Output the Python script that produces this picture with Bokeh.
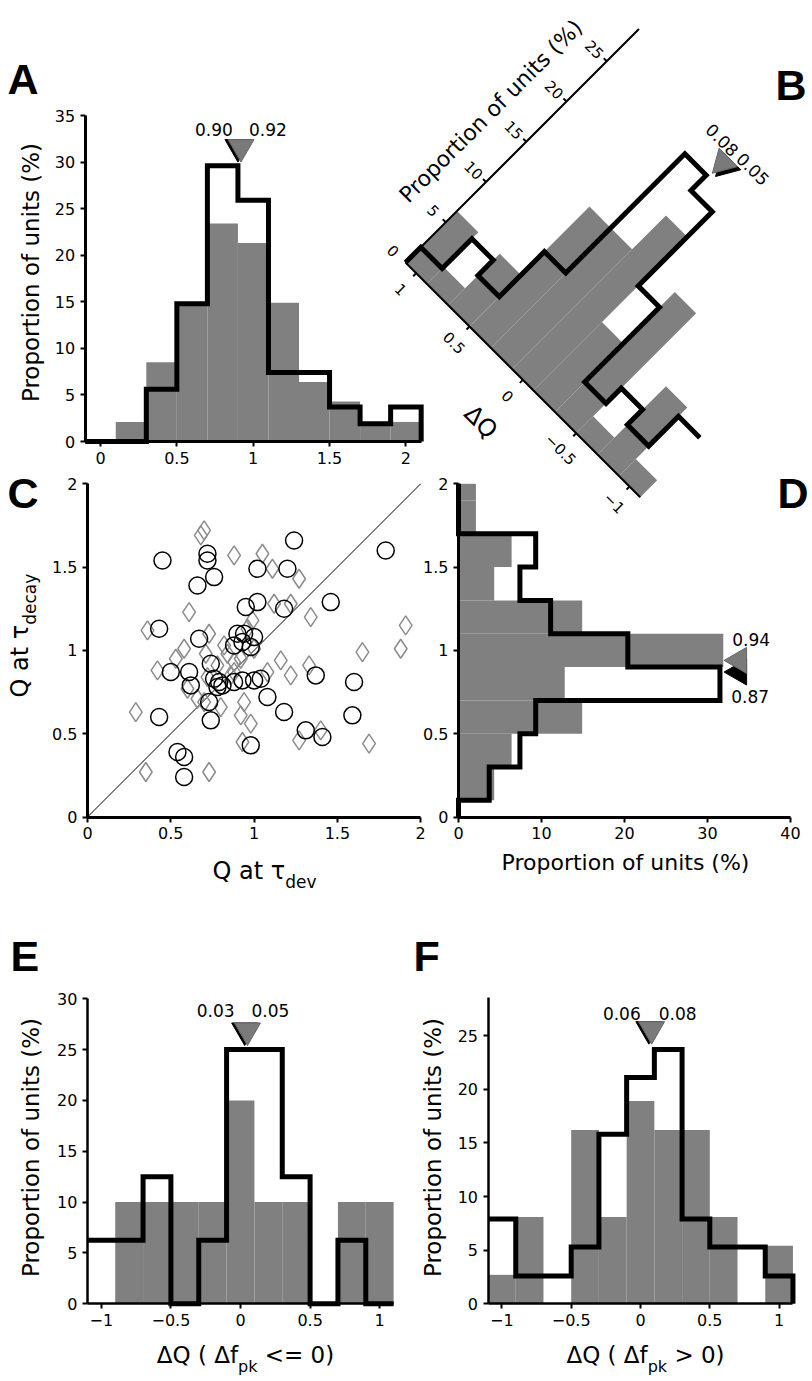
import numpy as np
from bokeh.plotting import figure
from bokeh.models import Range1d, LinearAxis, FixedTicker
from bokeh.core.properties import value
from bokeh.embed import file_html
from bokeh.resources import INLINE

# ------------------------------------------------------------------ data
# Panel A : Q histogram (grey = one population, black outline = other)
A_centers = [0.0, 0.2, 0.4, 0.6, 0.8, 1.0, 1.2, 1.4, 1.6, 1.8, 2.0]
A_gray = [0.0, 2.1, 8.5, 14.9, 23.4, 21.3, 14.9, 6.4, 4.3, 2.1, 2.1]
A_black = [0.0, 0.0, 5.6, 14.8, 29.6, 25.9, 7.4, 7.4, 3.7, 1.9, 3.7]
A_median_black = 0.90
A_median_gray = 0.92
A_marker_y = 30.0
A_xticks = [0, 0.5, 1, 1.5, 2]
A_xticklabels = ["0", "0.5", "1", "1.5", "2"]
A_yticks = [0, 5, 10, 15, 20, 25, 30, 35]

# Panel B : rotated Delta-Q histogram
B_centers = [1.0, 0.8, 0.6, 0.4, 0.2, 0.0, -0.2, -0.4, -0.6, -0.8, -1.0]
B_gray = [6.4, 2.1, 6.4, 14.9, 14.9, 19.1, 8.5, 14.9, 2.1, 8.5, 2.1]
B_black = [1.9, 5.6, 3.7, 9.3, 24.1, 22.2, 13.0, 3.7, 5.6, 3.7, 7.4]
B_median_black = 0.05
B_median_gray = 0.08
B_marker_pct = 24.6
B_qticks = [1, 0.5, 0, -0.5, -1]
B_qticklabels = ["1", "0.5", "0", "\u22120.5", "\u22121"]
B_pticks = [0, 5, 10, 15, 20, 25]
B_pticklabels = ["0", "5", "10", "15", "20", "25"]

# Panel C : scatter Q at tau_dev vs Q at tau_decay
C_circle_x = [0.45, 0.72, 0.72, 0.76, 0.66, 1.24, 1.79, 1.02, 1.20, 1.02, 1.46, 0.95,
              1.18, 0.43, 0.67, 0.90, 0.94, 1.00, 0.88, 0.93, 0.98, 0.50, 0.61, 0.62,
              0.74, 0.76, 0.79, 0.81, 0.78, 0.88, 0.93, 1.00, 1.04, 1.08, 1.37, 1.60,
              1.18, 1.59, 0.43, 0.74, 0.73, 1.31, 1.41, 0.98, 0.54, 0.58, 0.58]
C_circle_y = [1.54, 1.58, 1.54, 1.44, 1.39, 1.66, 1.60, 1.49, 1.49, 1.29, 1.29, 1.26,
              1.25, 1.13, 1.07, 1.10, 1.10, 1.08, 1.03, 1.05, 1.02, 0.87, 0.87, 0.79,
              0.92, 0.83, 0.81, 0.79, 0.78, 0.81, 0.82, 0.82, 0.83, 0.72, 0.85, 0.81,
              0.63, 0.61, 0.60, 0.58, 0.69, 0.52, 0.48, 0.43, 0.39, 0.36, 0.24]
C_diamond_x = [0.70, 0.68, 0.88, 1.05, 1.11, 1.27, 0.61, 1.12, 1.22, 1.34, 0.36, 0.73,
               0.99, 0.58, 0.53, 0.42, 1.91, 1.88, 1.65, 1.16, 1.22, 1.33, 0.88, 0.84,
               0.92, 0.72, 0.29, 0.70, 0.80, 0.94, 0.92, 0.98, 0.93, 1.27, 1.40, 1.69,
               0.35, 0.73, 0.88, 0.78, 0.96, 1.08, 0.86, 1.00, 0.66, 0.60, 0.71, 0.82]
C_diamond_y = [1.72, 1.69, 1.57, 1.58, 1.49, 1.43, 1.23, 1.28, 1.28, 1.20, 1.12, 1.10,
               1.18, 1.01, 0.95, 0.88, 1.15, 1.01, 0.99, 0.94, 0.85, 0.91, 0.93, 0.98,
               0.95, 0.84, 0.63, 0.69, 0.66, 0.69, 0.61, 0.56, 0.45, 0.46, 0.52, 0.44,
               0.27, 0.27, 0.87, 0.91, 1.13, 0.87, 0.85, 1.01, 0.71, 0.77, 0.98, 1.03]
C_lim = [0, 2]
C_ticks = [0, 0.5, 1, 1.5, 2]
C_ticklabels = ["0", "0.5", "1", "1.5", "2"]

# Panel D : horizontal histogram of Q at tau_decay
D_centers = [0.0, 0.2, 0.4, 0.6, 0.8, 1.0, 1.2, 1.4, 1.6, 1.8, 2.0]
D_gray = [0.0, 4.3, 6.4, 14.9, 12.8, 31.9, 14.9, 4.3, 6.4, 2.1, 2.1]
D_black = [0.0, 3.7, 7.4, 9.3, 31.5, 20.4, 11.1, 7.4, 9.3, 0.0, 0.0]
D_median_black = 0.87
D_median_gray = 0.94
D_marker_x = 32.0
D_xticks = [0, 10, 20, 30, 40]
D_yticks = [0, 0.5, 1, 1.5, 2]
D_yticklabels = ["0", "0.5", "1", "1.5", "2"]

# Panel E : Delta-Q, Delta f_pk <= 0
E_centers = [-1.0, -0.8, -0.6, -0.4, -0.2, 0.0, 0.2, 0.4, 0.6, 0.8, 1.0]
E_gray = [0.0, 10.0, 10.0, 10.0, 10.0, 20.0, 10.0, 10.0, 0.0, 10.0, 10.0]
E_black = [6.25, 6.25, 12.5, 0.0, 6.25, 25.0, 25.0, 12.5, 0.0, 6.25, 0.0]
E_median_black = 0.03
E_median_gray = 0.05
E_marker_y = 25.4
E_yticks = [0, 5, 10, 15, 20, 25, 30]

# Panel F : Delta-Q, Delta f_pk > 0
F_centers = [-1.0, -0.8, -0.6, -0.4, -0.2, 0.0, 0.2, 0.4, 0.6, 0.8, 1.0]
F_gray = [2.7, 8.1, 0.0, 16.2, 8.1, 18.9, 16.2, 16.2, 8.1, 0.0, 5.4]
F_black = [7.9, 2.6, 2.6, 5.3, 15.8, 21.1, 23.7, 7.9, 5.3, 5.3, 2.6]
F_median_black = 0.06
F_median_gray = 0.08
F_marker_y = 24.2
F_yticks = [0, 5, 10, 15, 20, 25]

EF_xticks = [-1, -0.5, 0, 0.5, 1]
EF_xticklabels = ["\u22121", "\u22120.5", "0", "0.5", "1"]

# ------------------------------------------------------------------ styling
GRAY = "#808080"
TRI_GRAY = "#7a7a7a"
FONT = "DejaVu Sans"
W, H = 812, 1381
BIN_W = 0.2
TRI = 26
TICK_FS = "16px"

# picture-pixel geometry of each panel: x0, px per x unit, y0 (pixel y of y=0), px per y unit
GEOM = {
    "A": (100.0, 152.7, 441.0, 9.314),
    "C": (87.0, 166.6, 816.5, 166.6),
    "D": (458.0, 8.3, 816.5, 166.6),
    "E": (240.0, 139.2, 1303.3, 10.17),
    "F": (640.0, 138.6, 1303.3, 10.73),
}

p = figure(width=W, height=H, x_range=Range1d(0, W), y_range=Range1d(H, 0),
           x_axis_type=None, y_axis_type=None, toolbar_location=None,
           output_backend="svg", min_border=0, outline_line_color=None,
           background_fill_color="white", border_fill_color="white")
p.grid.visible = False

xr, yr = {}, {}
for k, (X0, kx, Y0, ky) in GEOM.items():
    xr[k + "x"] = Range1d((0 - X0) / kx, (W - X0) / kx)
    yr[k + "y"] = Range1d((Y0 - H) / ky, (Y0 - 0) / ky)
p.extra_x_ranges = xr
p.extra_y_ranges = yr


def rn(k):
    return dict(x_range_name=k + "x", y_range_name=k + "y")


def hist_edges(centers, width=BIN_W):
    c = np.asarray(centers, float)
    o = np.argsort(c)
    return c[o] - width / 2, c[o] + width / 2, o


def step_xy(centers, vals, start_zero, end_zero, width=BIN_W):
    lo, hi, o = hist_edges(centers, width)
    v = np.asarray(vals, float)[o]
    xs, ys = [], []
    if start_zero:
        xs.append(lo[0]); ys.append(0.0)
    for l, h, vv in zip(lo, hi, v):
        xs += [l, h]; ys += [vv, vv]
    if end_zero:
        xs.append(hi[-1]); ys.append(0.0)
    return np.array(xs), np.array(ys)


def add_axis(side, k, loc, bounds, ticks, labels, lw=3):
    ax = LinearAxis(fixed_location=loc, bounds=tuple(bounds),
                    ticker=FixedTicker(ticks=list(ticks), minor_ticks=[]),
                    major_label_overrides={t: l for t, l in zip(ticks, labels)},
                    axis_line_width=lw, axis_line_color="black",
                    major_tick_line_width=2, major_tick_line_color="black",
                    major_tick_out=5, major_tick_in=0, minor_tick_out=0, minor_tick_in=0,
                    major_label_text_font=FONT, major_label_text_font_size=TICK_FS,
                    major_label_text_color="black", major_label_standoff=5, **rn(k))
    p.add_layout(ax, side)


def put_text(x, y, s, size, angle=0.0, align="center", baseline="middle", font=FONT,
             style="normal", xoff=0, yoff=0, k=None):
    kw = rn(k) if k else {}
    p.text(x=[x], y=[y], text=[s], angle=angle, x_offset=xoff, y_offset=yoff,
           text_font=value(font), text_font_size=value(size), text_font_style=style,
           text_align=align, text_baseline=baseline, text_color="black", **kw)


DV = {'Q': .787, ' ': .318, 'a': .613, 't': .392, '\u03c4': .56, '\u0394': .684,
      '(': .390, ')': .390, 'f': .352, '<': .838, '=': .838, '>': .838, '0': .636,
      'p': .635, 'k': .579, 'd': .635, 'e': .615, 'v': .592, 'c': .55, 'y': .592}


def tw(s, size):
    return sum(DV.get(ch, .6) for ch in s) * size


def vertical_hist(k, centers, gray, black, start_zero, end_zero, lw=5):
    lo, hi, o = hist_edges(centers)
    g = np.asarray(gray, float)[o]
    p.quad(left=lo, right=hi, bottom=0, top=g, fill_color=GRAY, line_color=None, **rn(k))
    xs, ys = step_xy(centers, black, start_zero, end_zero)
    p.line(xs, ys, line_color="black", line_width=lw, line_join="miter", **rn(k))


def median_markers(k, mb, mg, ytip, lbl_b, lbl_g):
    ky = GEOM[k][3]
    yc = ytip + 0.577 * TRI / ky
    p.scatter(x=[mb], y=[yc], marker="inverted_triangle", size=TRI, fill_color="black",
              line_color="black", **rn(k))
    p.scatter(x=[mg], y=[yc], marker="inverted_triangle", size=TRI, fill_color=TRI_GRAY,
              line_color="#666666", line_width=1, **rn(k))
    put_text(mb, ytip, f"{mb:.2f}", "17px", xoff=lbl_b[0], yoff=lbl_b[1], k=k)
    put_text(mg, ytip, f"{mg:.2f}", "17px", xoff=lbl_g[0], yoff=lbl_g[1], k=k)


# ------------------------------------------------------------------ panel A
vertical_hist("A", A_centers, A_gray, A_black, True, True)
add_axis("below", "A", 0, (-0.1, 2.1), A_xticks, A_xticklabels)
add_axis("left", "A", -0.1, (0, 35), A_yticks, [str(t) for t in A_yticks])
median_markers("A", A_median_black, A_median_gray, A_marker_y, (-24, -33), (27, -33))
put_text(30, 272, "Proportion of units (%)", "23px", angle=np.pi / 2)

# ------------------------------------------------------------------ panel B (rotated)
B_O = (405.0, 262.0)
B_KQ = 106.7
B_KP = 8.05


def B_xy(q, pct):
    q = np.asarray(q, float); pct = np.asarray(pct, float)
    s = (1.1 - q) * B_KQ
    t = pct * B_KP
    return B_O[0] + s + t, B_O[1] + s - t


lo, hi, o = hist_edges(B_centers)
gB = np.asarray(B_gray, float)[o]
bx, by = [], []
for l, h, v in zip(lo, hi, gB):
    qx = [h, l, l, h]
    pv = [0, 0, v, v]
    X, Y = B_xy(qx, pv)
    bx.append(list(X)); by.append(list(Y))
p.patches(bx, by, fill_color=GRAY, line_color=None)
qs, ps = step_xy(B_centers, B_black, False, True)
X, Y = B_xy(qs, ps)
p.line(X, Y, line_color="black", line_width=5, line_join="miter")
# axes
X, Y = B_xy([1.1, -1.1], [0, 0])
p.line(X, Y, line_color="black", line_width=2)
X, Y = B_xy([1.1, 1.1], [0, 29])
p.line(X, Y, line_color="black", line_width=2)
tx, ty = B_xy(B_qticks, [0] * len(B_qticks))
p.segment(tx, ty, tx - 3, ty + 3, line_color="black", line_width=2)
for x0, y0, lab in zip(tx, ty, B_qticklabels):
    put_text(x0 - 15, y0 + 16, lab, "15px", angle=-np.pi / 4)
tx, ty = B_xy([1.1] * len(B_pticks), B_pticks)
p.segment(tx[1:], ty[1:], tx[1:] - 3, ty[1:] - 3, line_color="black", line_width=2)
for x0, y0, lab in zip(tx, ty, B_pticklabels):
    put_text(x0 - 12, y0 - 12, lab, "15px", angle=-np.pi / 4)
lx, ly = B_xy(0, 0)
put_text(lx - 42, ly + 42, "\u0394Q", "24px", angle=-np.pi / 4)
lx, ly = B_xy(1.1, 14.7)
put_text(lx - 33, ly - 33, "Proportion of units (%)", "22px", angle=np.pi / 4)
# medians
for m, fc, lc in [(B_median_black, "black", "black"), (B_median_gray, TRI_GRAY, "#666666")]:
    tx0, ty0 = B_xy(m, B_marker_pct)
    d = 0.577 * TRI / np.sqrt(2)
    p.scatter(x=[tx0 + d], y=[ty0 - d], marker="triangle", angle=3 * np.pi / 4, size=TRI,
              fill_color=fc, line_color=lc)
lx, ly = B_xy(B_median_gray + 0.11, 27.3)
put_text(lx, ly, f"{B_median_gray:.2f}", "17px", angle=-np.pi / 4)
lx, ly = B_xy(B_median_black - 0.14, 27.4)
put_text(lx, ly, f"{B_median_black:.2f}", "17px", angle=-np.pi / 4)

# ------------------------------------------------------------------ panel C
p.line(x=C_lim, y=C_lim, line_color="black", line_width=1, **rn("C"))
p.scatter(C_diamond_x, C_diamond_y, marker="diamond", size=19, fill_color=None,
          line_color="#8c8c8c", line_width=1.5, **rn("C"))
p.scatter(C_circle_x, C_circle_y, marker="circle", size=17, fill_color=None,
          line_color="black", line_width=1.5, **rn("C"))
add_axis("below", "C", 0, C_lim, C_ticks, C_ticklabels)
add_axis("left", "C", 0, C_lim, C_ticks, C_ticklabels)
main = "Q at \u03c4"
put_text(212, 870, main, "24px", align="left")
put_text(212 + tw(main, 24) + 1, 881, "dev", "17px", align="left")
put_text(19, 697, main, "24px", angle=np.pi / 2, align="left")
put_text(29, 697 - tw(main, 24) - 1, "decay", "17px", angle=np.pi / 2, align="left")

# ------------------------------------------------------------------ panel D
lo, hi, o = hist_edges(D_centers)
gD = np.asarray(D_gray, float)[o]
p.quad(left=0, right=gD, bottom=np.clip(lo, 0, 2), top=np.clip(hi, 0, 2),
       fill_color=GRAY, line_color=None, **rn("D"))
ys_, xs_ = step_xy(D_centers, D_black, True, True)
p.line(xs_, np.clip(ys_, 0, 2), line_color="black", line_width=5, line_join="miter", **rn("D"))
add_axis("below", "D", 0, (0, 40), D_xticks, [str(t) for t in D_xticks])
add_axis("left", "D", 0, (0, 2), D_yticks, D_yticklabels)
kxD = GEOM["D"][1]
xc = D_marker_x + 0.577 * TRI / kxD
p.scatter(x=[xc], y=[D_median_black], marker="triangle", angle=np.pi / 2, size=TRI,
          fill_color="black", line_color="black", **rn("D"))
p.scatter(x=[xc], y=[D_median_gray], marker="triangle", angle=np.pi / 2, size=TRI,
          fill_color=TRI_GRAY, line_color="#666666", **rn("D"))
put_text(D_marker_x, D_median_gray, f"{D_median_gray:.2f}", "17px", xoff=27, yoff=-21, k="D")
put_text(D_marker_x, D_median_black, f"{D_median_black:.2f}", "17px", xoff=26, yoff=24, k="D")
put_text(625, 862, "Proportion of units (%)", "22px")

# ------------------------------------------------------------------ panel E
vertical_hist("E", E_centers, E_gray, E_black, False, True)
add_axis("below", "E", 0, (-1.1, 1.1), EF_xticks, EF_xticklabels, lw=2.5)
add_axis("left", "E", -1.1, (0, 30), E_yticks, [str(t) for t in E_yticks], lw=2.5)
median_markers("E", E_median_black, E_median_gray, E_marker_y, (-29, -35), (23, -35))
put_text(30, 1147, "Proportion of units (%)", "23px", angle=np.pi / 2)

# ------------------------------------------------------------------ panel F
vertical_hist("F", F_centers, F_gray, F_black, False, True)
add_axis("below", "F", 0, (-1.1, 1.1), EF_xticks, EF_xticklabels, lw=2.5)
add_axis("left", "F", -1.1, (0, 28.5), F_yticks, [str(t) for t in F_yticks], lw=2.5)
median_markers("F", F_median_black, F_median_gray, F_marker_y, (-27, -31), (26, -31))
put_text(432, 1147, "Proportion of units (%)", "23px", angle=np.pi / 2)


def sub_label(cx, mid, pre, sub, post):
    sp = tw(" ", 23)
    total = tw(pre, 23) + tw(sub, 16) + sp + tw(post, 23)
    x = cx - total / 2
    put_text(x, mid, pre, "23px", align="left")
    x += tw(pre, 23)
    put_text(x, mid + 12, sub, "16px", align="left")
    x += tw(sub, 16) + sp
    put_text(x, mid, post, "23px", align="left")


sub_label(245, 1354, "\u0394Q ( \u0394f", "pk", "<= 0)")
sub_label(645, 1354, "\u0394Q ( \u0394f", "pk", "> 0)")

# ------------------------------------------------------------------ panel letters
for letter, x, y in [("A", 7, 78), ("B", 775, 84), ("C", 7, 492), ("D", 777, 492),
                     ("E", 10, 955), ("F", 413, 955)]:
    put_text(x, y, letter, "43px", align="left", font="Liberation Sans", style="bold")

open("out.html", "w").write(file_html(p, INLINE))
